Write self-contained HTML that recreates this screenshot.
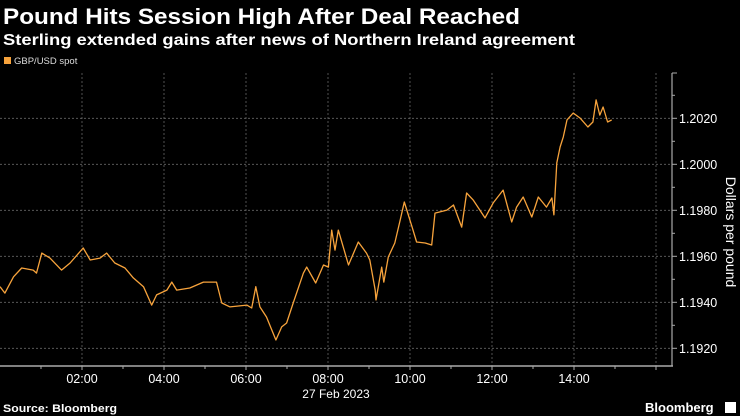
<!DOCTYPE html>
<html><head><meta charset="utf-8"><style>
html,body{margin:0;padding:0;background:#000;width:740px;height:416px;overflow:hidden}
svg{display:block}
text{font-family:"Liberation Sans",Arial,sans-serif}
</style></head><body>
<svg id="c" width="740" height="416" viewBox="0 0 740 416">
<rect width="740" height="416" fill="#000"/>
<text x="3" y="24" fill="#fff" font-size="22" font-weight="bold" textLength="517" lengthAdjust="spacingAndGlyphs">Pound Hits Session High After Deal Reached</text>
<text x="3" y="45" fill="#fff" font-size="16" font-weight="bold" textLength="572" lengthAdjust="spacingAndGlyphs">Sterling extended gains after news of Northern Ireland agreement</text>
<g>
<rect x="4" y="57" width="7" height="7" fill="#f7a33c"/>
<text x="14" y="64" fill="#ddd" font-size="9.5">GBP/USD spot</text>
</g>
<g id="grid"></g>
<g id="axes"></g>
<polyline id="line" fill="none" stroke="#f7a33c" stroke-width="1.3" stroke-linejoin="round"/>
<text transform="translate(726,232) rotate(90)" text-anchor="middle" fill="#fff" font-size="14">Dollars per pound</text>
<text x="336" y="398" text-anchor="middle" fill="#fff" font-size="12">27 Feb 2023</text>
<text x="3" y="412" fill="#fff" font-size="11" font-weight="bold" textLength="114" lengthAdjust="spacingAndGlyphs">Source: Bloomberg</text>
<g>
<text x="645" y="412" fill="#fff" font-size="13" font-weight="bold">Bloomberg</text>
<rect x="725" y="402" width="11" height="11" fill="#fff"/>
</g>
</svg>
<script>
const times=[0,0.12,0.33,0.53,0.81,0.89,1.02,1.22,1.5,1.71,2.03,2.2,2.44,2.6,2.8,3.05,3.25,3.5,3.7,3.82,4.07,4.19,4.31,4.63,4.96,5.28,5.41,5.61,6.02,6.14,6.24,6.34,6.5,6.73,6.87,6.99,7.15,7.4,7.48,7.7,7.89,8.01,8.09,8.17,8.25,8.5,8.74,8.94,9.02,9.15,9.17,9.31,9.36,9.47,9.63,9.76,9.86,10.05,10.16,10.37,10.53,10.61,10.9,11.06,11.26,11.38,11.54,11.83,12.03,12.27,12.48,12.6,12.76,12.97,13.13,13.33,13.46,13.51,13.58,13.66,13.74,13.83,13.98,14.15,14.34,14.46,14.54,14.63,14.71,14.82,14.92];
const prices=[1.19468,1.1944,1.19511,1.19549,1.1954,1.19527,1.19614,1.19592,1.1954,1.19571,1.19636,1.19584,1.19592,1.19614,1.19571,1.19549,1.19506,1.19468,1.19388,1.19432,1.19453,1.19488,1.19453,1.19462,1.19488,1.19488,1.19397,1.1938,1.19388,1.19375,1.19468,1.1938,1.19336,1.19236,1.19293,1.1931,1.19397,1.19527,1.19553,1.19484,1.19562,1.19553,1.19714,1.19627,1.19714,1.19562,1.19662,1.19614,1.19584,1.19453,1.1941,1.19553,1.19488,1.19597,1.19658,1.19758,1.19836,1.19727,1.19662,1.19658,1.19649,1.19788,1.19801,1.19823,1.19727,1.19875,1.19845,1.19767,1.19832,1.19888,1.19749,1.19814,1.19858,1.19771,1.19858,1.19814,1.19854,1.1978,1.20006,1.20075,1.20119,1.20193,1.20223,1.20201,1.20162,1.20184,1.2028,1.20214,1.20249,1.20184,1.20193];
const yTicks=[1.192,1.194,1.196,1.198,1.2,1.202];
const xTicks=[2,4,6,8,10,12,14,16];
const xTickLabels=["02:00","04:00","06:00","08:00","10:00","12:00","14:00",""];
const X=t=>t*41;
const Y=v=>118.3+(1.202-v)*23000;
const NS="http://www.w3.org/2000/svg";
const grid=document.getElementById('grid'),axes=document.getElementById('axes');
function mk(tag,at,parent){const e=document.createElementNS(NS,tag);for(const k in at)e.setAttribute(k,at[k]);parent.appendChild(e);return e;}
yTicks.forEach((v,i)=>{
 const g=mk('line',{x1:0,x2:672,y1:Y(v),y2:Y(v),stroke:'#666','stroke-width':0.8,'stroke-dasharray':'2,2'},grid);
 
 
 mk('line',{x1:672,x2:677,y1:Y(v),y2:Y(v),stroke:'#aaa'},axes);
 const t=mk('text',{x:679,y:Y(v)+4.5,fill:'#fff','font-size':12.5},axes);
 t.textContent=v.toFixed(4);
 
 
 mk('line',{x1:672,x2:675,y1:Y(v+0.001),y2:Y(v+0.001),stroke:'#aaa'},axes);
});
xTicks.forEach((h,i)=>{
 const g=mk('line',{x1:X(h),x2:X(h),y1:73,y2:366,stroke:'#666','stroke-width':0.8,'stroke-dasharray':'2,2'},grid);
 
 
 mk('line',{x1:X(h),x2:X(h),y1:366,y2:370,stroke:'#aaa'},axes);
 mk('line',{x1:X(h-1),x2:X(h-1),y1:366,y2:369,stroke:'#aaa'},axes);
 const t=mk('text',{x:X(h),y:383,fill:'#fff','font-size':12.5,'text-anchor':'middle'},axes);
 t.textContent=xTickLabels[i];
 
 
});
mk('line',{x1:0,x2:673,y1:366,y2:366,stroke:'#aaa','stroke-width':1.5},axes);
mk('line',{x1:672,x2:672,y1:73,y2:366,stroke:'#aaa','stroke-width':1.2},axes);
mk('line',{x1:672,x2:677,y1:73,y2:73,stroke:'#aaa'},axes);
document.getElementById('line').setAttribute('points',times.map((t,i)=>X(t).toFixed(1)+','+Y(prices[i]).toFixed(1)).join(' '));
</script>
</body></html>
